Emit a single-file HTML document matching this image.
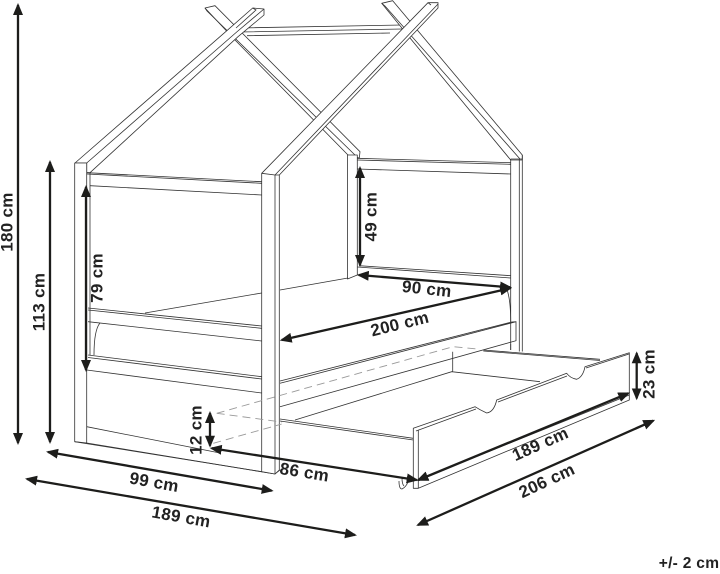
<!DOCTYPE html>
<html><head><meta charset="utf-8"><style>
html,body{margin:0;padding:0;background:#fff}
svg{display:block}
.l{fill:none;stroke:#333;stroke-width:.8}
.f{fill:#fff;stroke:#333;stroke-width:.8;stroke-linejoin:round}
.d{fill:none;stroke:#999;stroke-width:.9;stroke-dasharray:8 5}
.a{stroke:#1d1d1b;stroke-width:2.3;fill:none}
text{font-family:"Liberation Sans",sans-serif;font-weight:bold;font-size:17px;letter-spacing:.3px;fill:#222;text-anchor:middle;dominant-baseline:middle}
</style></head><body>
<svg width="720" height="574" viewBox="0 0 720 574" xmlns="http://www.w3.org/2000/svg">
<defs>
<marker id="m" viewBox="0 0 12 10" refX="10" refY="5" markerWidth="12" markerHeight="10" markerUnits="userSpaceOnUse" orient="auto-start-reverse"><path d="M0 0L12 5L0 10Z" fill="#1d1d1b"/></marker>
</defs>
<!-- ridge -->
<path class="l" d="M238 28L402 25M240 32L402 29M247 35.7L390 33"/>
<!-- back gable right rafter -->
<path class="f" d="M381.7 3.3L392.7 .7L522.3 155L522.3 160L510.7 160L410 38Z"/>
<path class="l" d="M381.7 3.3L385 6L520 159"/>
<!-- crossing rafter -->
<path class="f" d="M205 8L215 5.7L360 151.7L359.3 158L348 155L235 40Z"/>
<path class="l" d="M205 8L207 11L355 155"/>
<!-- left rafter -->
<path class="f" d="M75 163L225.7 31.7L252.7 8L264 9L264 15L238 36.7L90 172.7L86.7 172.7L86.7 163Z"/>
<path class="l" d="M86.7 163L236.7 32L264 9M252.7 8L256 10L236 28"/>
<!-- front right rafter -->
<path class="f" d="M261.7 173.3L428 2.7L438 2.7L438 8L279.3 175L279.3 200L261.7 200Z" style="stroke:none"/>
<path class="l" d="M261.7 173.3L428 2.7L438 2.7L438 8L279.3 175M275 175L438 4M428 2.7L431 5"/>
<!-- posts -->
<path class="f" d="M74.7 163L86.7 163L86.7 443L74.7 441.7Z"/>
<path class="l" d="M90 172.7V355"/>
<path class="f" d="M347.5 155L357.3 155L357.3 275L347.5 279Z"/>
<path class="l" d="M510.7 159V350M519.3 159V351.5M522.3 155V351.5M510.7 159H522.3"/>
<!-- front left rails -->
<path class="l" d="M86.7 172.7L261.7 181.7M86.7 174L261.7 183.3M90 185.7L261.7 195"/>
<path class="l" d="M145 313L261.7 293M88 308L261.7 326M88 310L261.7 328.3M88 321.7L261.7 341M88 355L261.7 376.7M88 357.5L261.7 379M86.7 370L261.7 393M86.7 426.7L220 453"/>
<path class="l" d="M100 323Q94 330 94 355M74.7 441.7L261.7 471.7"/>
<path class="l" d="M86.7 443L275 474L280 470"/>
<!-- back rails -->
<path class="l" d="M357.3 158.3L510.7 162.7M357.3 160L510.7 164.3M357.3 169L510.7 174M359 265.7L510.7 275.7M357.3 267L510.7 278"/>
<path class="l" d="M280 290L348 278"/>
<!-- front right post -->
<path class="f" d="M261.7 173.3L275 175L279.3 175L279.3 470L275 474L261.7 471.7Z"/>
<path class="l" d="M275 175V474"/>
<!-- trundle bed side -->
<path class="l" d="M280 381L511.7 322L516 321.7L516 340.7L280 406.7M280 383.3L516 321.7"/>
<path class="l" d="M510.7 344V350M505 285Q510.7 295 510.7 322"/>
<!-- dashes -->
<path class="d" d="M216.7 413.3L453 346.7L477 349M216.7 413.3L281.7 422M213.3 443.3L281.7 424"/>
<!-- drawer inner -->
<path class="l" d="M295 420L451.7 371.7L540 381.7M452.7 351.7V371.7M483.3 350L600 359.3M483.3 351L600 360.5M280 419L413.3 438.3M280 421L413.3 440"/>
<!-- drawer front -->
<path class="f" d="M413.3 428.3L475 406.7Q480 410 486.7 413Q494 412 496.7 400L566.7 373.3Q570 378 576.7 379.3Q583 377 585 366.7L629.3 352.7V400L418.3 488.3H413.3Z"/>
<path class="l" d="M418.3 430V488.3M418.3 480L629.3 395M416 431L476 409M498 402L567 376M586 368L629 354"/>
<path class="l" d="M399 481Q399 489 402 489Q406 487 408 482M402 478Q402 484 404 486"/>
<!-- arrows -->
<line class="a" x1="18" y1="5" x2="18" y2="443" marker-start="url(#m)" marker-end="url(#m)"/>
<line class="a" x1="50" y1="162" x2="50" y2="442" marker-start="url(#m)" marker-end="url(#m)"/>
<line class="a" x1="86" y1="187" x2="86" y2="370" marker-start="url(#m)" marker-end="url(#m)"/>
<line class="a" x1="360" y1="168" x2="360" y2="265" marker-start="url(#m)" marker-end="url(#m)"/>
<line class="a" x1="358.7" y1="275" x2="510" y2="287.3" marker-start="url(#m)" marker-end="url(#m)"/>
<line class="a" x1="281.7" y1="340" x2="510" y2="288.3" marker-start="url(#m)" marker-end="url(#m)"/>
<line class="a" x1="210" y1="413" x2="210" y2="445.7" marker-start="url(#m)" marker-end="url(#m)"/>
<line class="a" x1="211.7" y1="448.3" x2="416.7" y2="480" marker-start="url(#m)" marker-end="url(#m)"/>
<line class="a" x1="48" y1="452" x2="271.7" y2="490.7" marker-start="url(#m)" marker-end="url(#m)"/>
<line class="a" x1="27" y1="479" x2="355" y2="535" marker-start="url(#m)" marker-end="url(#m)"/>
<line class="a" x1="418.3" y1="480" x2="628.3" y2="393.3" marker-start="url(#m)" marker-end="url(#m)"/>
<line class="a" x1="418" y1="525" x2="653.3" y2="420.7" marker-start="url(#m)" marker-end="url(#m)"/>
<line class="a" x1="636.7" y1="353.3" x2="636.7" y2="398.3" marker-start="url(#m)" marker-end="url(#m)"/>
<!-- labels -->
<text transform="translate(8 222) rotate(-90)">180 cm</text>
<text transform="translate(40 302) rotate(-90)">113 cm</text>
<text transform="translate(98 278) rotate(-90)">79 cm</text>
<text transform="translate(372 216.7) rotate(-90)">49 cm</text>
<text transform="translate(426.7 290) rotate(6)">90 cm</text>
<text transform="translate(400 325) rotate(-14)">200 cm</text>
<text transform="translate(197 430) rotate(-90)">12 cm</text>
<text transform="translate(304.3 473.3) rotate(9)">86 cm</text>
<text transform="translate(154 483.3) rotate(10)">99 cm</text>
<text transform="translate(181 518) rotate(10)">189 cm</text>
<text transform="translate(540.7 445) rotate(-24)">189 cm</text>
<text transform="translate(547.3 481.7) rotate(-25)">206 cm</text>
<text transform="translate(650 374) rotate(-90)">23 cm</text>
<text x="689" y="564" style="font-size:15.5px">+/- 2 cm</text>
</svg>
</body></html>
